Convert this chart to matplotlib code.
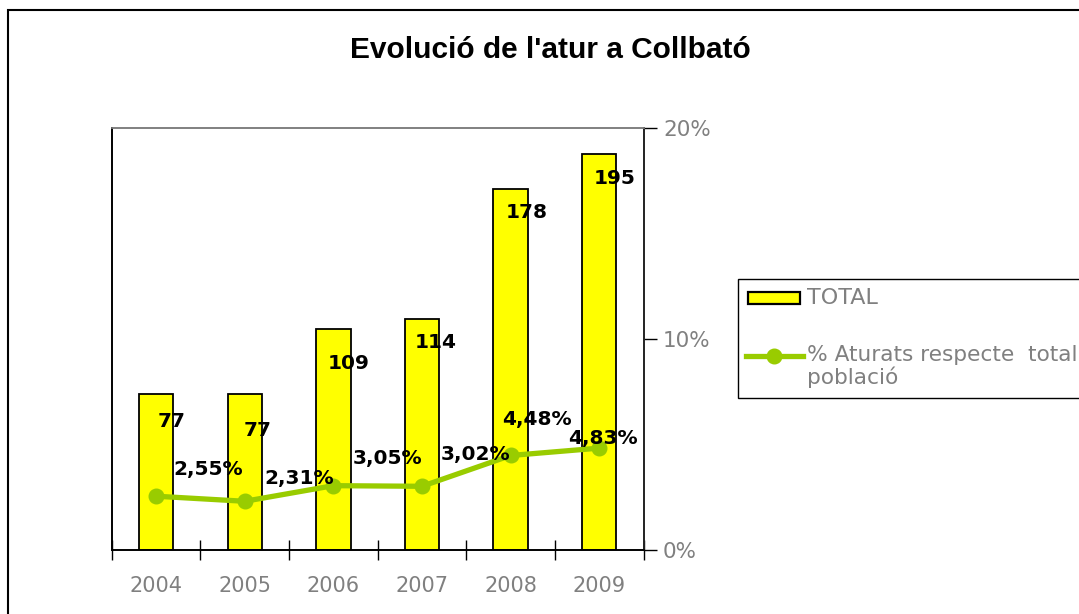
import matplotlib
matplotlib.use("Agg")
import matplotlib.pyplot as plt
from matplotlib.patches import Rectangle
from matplotlib.lines import Line2D
from matplotlib.ticker import FixedLocator, PercentFormatter

# chart values
years = ["2004", "2005", "2006", "2007", "2008", "2009"]
total = [77, 77, 109, 114, 178, 195]
pct = [2.55, 2.31, 3.05, 3.02, 4.48, 4.83]
pct_labels = ["2,55%", "2,31%", "3,05%", "3,02%", "4,48%", "4,83%"]

title = "Evolució de l'atur a Collbató"
bar_name = "TOTAL"
line_name = "% Aturats respecte  total\npoblació"

# label offsets in pixels (dx, dy)
bar_lab_off = [(15, -28), (13, -37), (15, -35), (14, -24), (16, -24), (15, -24)]
pct_lab_off = [(52, 27), (54, 23), (54, 27), (53, 32), (26, 36), (4, 10)]

yellow = "#FFFF00"
green = "#99CC00"
grey = "#808080"

W, H = 1079, 614
fig = plt.figure(figsize=(W / 100, H / 100), dpi=100)
ax = fig.add_axes([0.1037, 0.1042, 0.4927, 0.6873])
ax2 = ax.twinx()

x = list(range(len(years)))
ax.bar(x, total, width=0.39, color=yellow, edgecolor="black", linewidth=1.3, zorder=2)
ax.set_xlim(-0.5, len(years) - 0.5)
ax.set_ylim(0, 208)
ax.set_yticks([])

for xi, v, (dx, dy) in zip(x, total, bar_lab_off):
    ax.annotate(str(v), (xi, v), xytext=(dx, dy), textcoords="offset pixels",
                ha="center", va="center", fontsize=14.5, fontweight="bold", zorder=3)

ax.set_xticks(x)
ax.set_xticklabels(years)
ax.tick_params(axis="x", which="major", length=0, pad=19, labelsize=15, labelcolor=grey)
ax.xaxis.set_minor_locator(FixedLocator([i - 0.5 for i in range(len(years) + 1)]))
ax.tick_params(axis="x", which="minor", direction="inout", length=15, width=1, color="black")

ax2.plot(x, [p / 100 for p in pct], color=green, linewidth=3.8, marker="o",
         markersize=10.5, markerfacecolor=green, markeredgecolor=green, zorder=4)
ax2.set_ylim(0, 0.20)
ax2.set_yticks([0, 0.10, 0.20])
ax2.yaxis.set_major_formatter(PercentFormatter(1.0, decimals=0))
ax2.tick_params(axis="y", direction="out", length=9, width=1, color="black",
                pad=5, labelsize=15.5, labelcolor=grey)
for xi, p, t, (dx, dy) in zip(x, pct, pct_labels, pct_lab_off):
    ax2.annotate(t, (xi, p / 100), xytext=(dx, dy), textcoords="offset pixels",
                 ha="center", va="center", fontsize=14.5, fontweight="bold", zorder=5)

for a in (ax, ax2):
    a.spines["top"].set_color(grey)
    a.spines["left"].set_color("black")
    a.spines["right"].set_color("#222222")
    a.spines["bottom"].set_color("black")
    for s in a.spines.values():
        s.set_linewidth(1.2)

fig.text(550 / W, 1 - 50 / H, title, ha="center", va="center", fontsize=21.5,
         fontweight="bold", family="Liberation Sans")

# legend drawn by hand, running off the right edge as in the original
def fx(px):
    return px / W

def fy(py):
    return 1 - py / H

fig.patches.append(Rectangle((fx(738), fy(398)), 1, (398 - 279) / H, transform=fig.transFigure,
                             fill=True, facecolor="white", edgecolor="black", linewidth=1.0,
                             clip_on=False, zorder=5))
fig.patches.append(Rectangle((fx(748), fy(304)), (800 - 748) / W, (304 - 292) / H,
                             transform=fig.transFigure, facecolor=yellow, edgecolor="black",
                             linewidth=1.6, zorder=6))
fig.lines.append(Line2D([fx(746), fx(803)], [fy(356), fy(356)], transform=fig.transFigure,
                        color=green, linewidth=3.8, zorder=6))
fig.lines.append(Line2D([fx(774)], [fy(356)], transform=fig.transFigure, color=green,
                        marker="o", markersize=10.5, zorder=6))
fig.text(fx(807), fy(298), bar_name, ha="left", va="center", fontsize=16, color=grey, zorder=7)
fig.text(fx(807), fy(345), line_name, ha="left", va="top", fontsize=15.6, color=grey,
         linespacing=1.1, zorder=7)

# outer chart border
fig.patches.append(Rectangle((fx(8), -0.2), 2, 1.2 - 10 / H, transform=fig.transFigure,
                             fill=False, edgecolor="black", linewidth=1.5, clip_on=False))

fig.savefig("out.png", dpi=100)
